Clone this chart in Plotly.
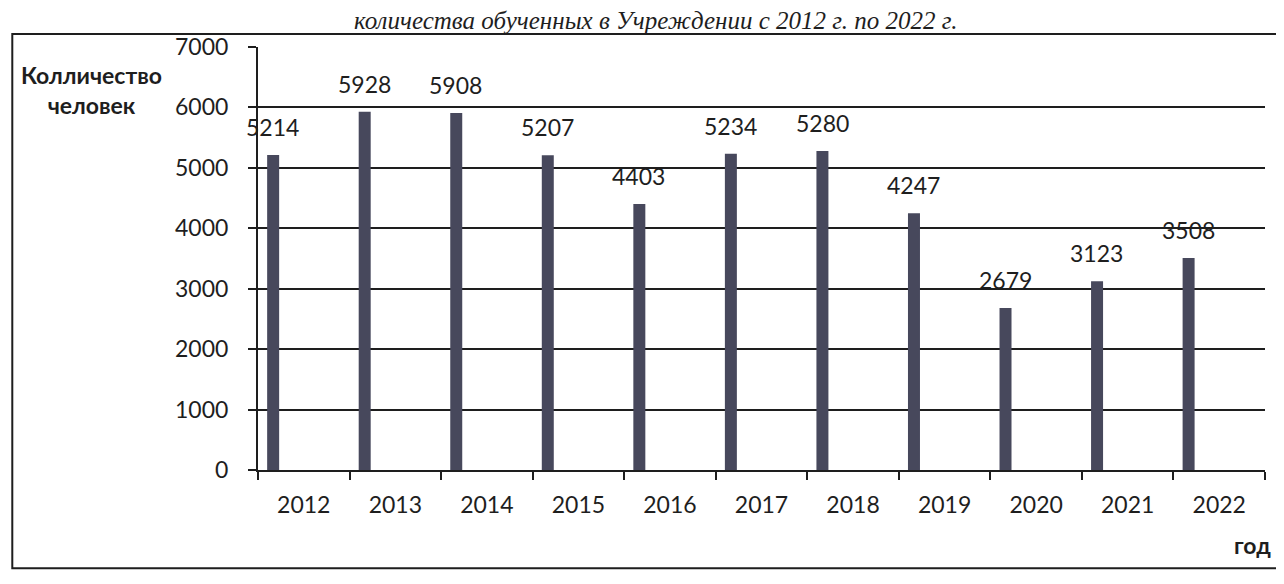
import plotly.graph_objects as go

years = ["2012", "2013", "2014", "2015", "2016", "2017", "2018", "2019", "2020", "2021", "2022"]
values = [5214, 5928, 5908, 5207, 4403, 5234, 5280, 4247, 2679, 3123, 3508]
y_ticks = [0, 1000, 2000, 3000, 4000, 5000, 6000, 7000]

FONT = "Lato"
bar_color = "#47485c"
INK = "#1e1e1e"

fig = go.Figure()
fig.add_trace(go.Bar(
    x=years, y=values,
    marker=dict(color=bar_color, line=dict(width=0)),
    width=0.131, offset=-0.40,
    hoverinfo="x+y",
))

annotations = []
for i, v in enumerate(values):
    annotations.append(dict(
        x=i, y=v, xref="x", yref="y", text=str(v), showarrow=False,
        xanchor="center", yanchor="middle",
        xshift=-31, yshift=28, font=dict(family=FONT, size=23, color=INK)
    ))

annotations += [
    dict(x=-0.165, y=0.898, xref="paper", yref="paper", text="<b>Колличество<br>человек</b>",
         xanchor="center", yanchor="middle",
         showarrow=False, align="center", font=dict(family=FONT, size=23, color=INK)),
    dict(x=0.988, y=-0.177, xref="paper", yref="paper", text="<b>год</b>",
         xanchor="center", yanchor="middle",
         showarrow=False, font=dict(family=FONT, size=23, color=INK)),
    dict(x=0.395, y=1.062, xref="paper", yref="paper",
         text="<i>количества обученных в Учреждении с 2012 г. по 2022 г.</i>",
         xanchor="center", yanchor="middle",
         showarrow=False, font=dict(family="Liberation Serif", size=25, color=INK)),
]

fig.update_layout(
    width=1284, height=584,
    margin=dict(l=250, r=27, t=39, b=122),
    paper_bgcolor="white", plot_bgcolor="white",
    showlegend=False,
    annotations=annotations,
    shapes=[dict(type="rect", xref="paper", yref="paper", x0=-0.244, x1=1.04, y0=-0.232, y1=1.031,
                 line=dict(color=INK, width=2), layer="below")],
    xaxis=dict(
        type="category", range=[-0.5, len(years) - 0.5],
        showgrid=False, showline=True, linecolor=INK, linewidth=2,
        ticks="outside", tickson="boundaries", ticklen=8, tickcolor=INK, tickwidth=2,
        ticklabelstandoff=13, tickangle=0,
        tickfont=dict(family=FONT, size=23, color=INK),
    ),
    yaxis=dict(
        range=[0, 7000], tickvals=y_ticks, showgrid=True, gridcolor=INK, gridwidth=2,
        showline=True, linecolor=INK, linewidth=2, zeroline=False,
        ticks="outside", ticklen=8, tickcolor=INK, tickwidth=2,
        ticklabelstandoff=15,
        tickfont=dict(family=FONT, size=23, color=INK),
    ),
)

fig.write_html("out.html")
